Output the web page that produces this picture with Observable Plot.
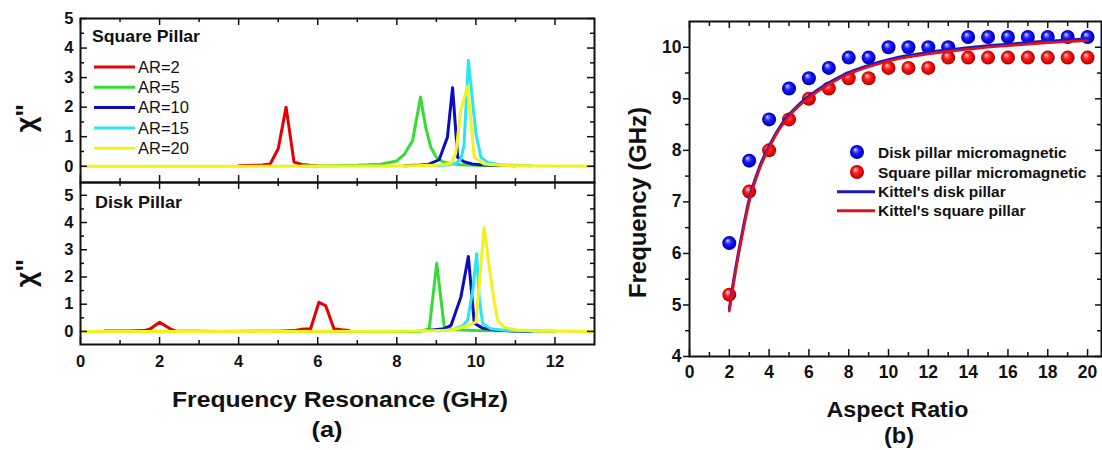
<!DOCTYPE html>
<html>
<head>
<meta charset="utf-8">
<script src="https://cdn.jsdelivr.net/npm/d3@7"></script>
<script src="https://cdn.jsdelivr.net/npm/@observablehq/plot@0.6"></script>
<style>
html, body { margin: 0; padding: 0; background: #fff; }
#chart { position: relative; width: 1102px; height: 450px; overflow: hidden; background: #fff; }
#chart svg { position: absolute; left: 0; top: 0; }
</style>
</head>
<body>
<div id="chart"></div>
<script>
// ---------------- DATA ----------------
// panel (a): tick values
const freqMajorTicks = [0, 2, 4, 6, 8, 10, 12];
const freqMinorTicks = [1, 3, 5, 7, 9, 11];
const chiMajorTicks = [0, 1, 2, 3, 4, 5];
const chiMinorTicks = [0.5, 1.5, 2.5, 3.5, 4.5];

// panel (a): series names and colours
const arNames = ["AR=2", "AR=5", "AR=10", "AR=15", "AR=20"];
const arColors = ["#e60000", "#33dd33", "#0b0bbf", "#2ae6f2", "#f2f21c"];

// panel (a) top: Square Pillar spectra [frequency GHz, chi'']
const squareAR2 = [[4.0,0.02],[4.4,0.03],[4.6,0.04],[4.8,0.08],[5.0,0.59],[5.2,2.0],[5.4,0.14],[5.6,0.06],[5.8,0.03],[6.0,0.02]];
const squareAR5 = [[5.6,0.01],[6.4,0.02],[7.0,0.03],[7.6,0.07],[8.0,0.18],[8.2,0.42],[8.4,0.87],[8.6,2.34],[8.73,1.32],[8.86,0.64],[9.0,0.3],[9.16,0.15],[9.32,0.1],[9.6,0.05],[10.0,0.03],[10.6,0.02]];
const squareAR10 = [[8.2,0.02],[8.6,0.04],[8.8,0.06],[9.07,0.22],[9.28,0.98],[9.41,2.66],[9.54,0.3],[9.7,0.15],[9.9,0.08],[10.1,0.05],[10.5,0.03],[11.0,0.02]];
const squareAR15 = [[9.0,0.02],[9.3,0.05],[9.5,0.1],[9.62,0.25],[9.7,0.7],[9.81,3.58],[9.87,2.8],[10.0,1.1],[10.13,0.3],[10.3,0.13],[10.6,0.05],[11.0,0.03],[11.4,0.02]];
const squareAR20 = [[0,0.0],[4,0.0],[8,0.01],[9.0,0.03],[9.37,0.1],[9.49,0.43],[9.62,1.9],[9.79,2.7],[9.96,0.3],[10.2,0.08],[10.6,0.03],[11.5,0.01],[13,0.0]];

// panel (a) bottom: Disk Pillar spectra
const diskAR2 = [[0.6,0.02],[1.2,0.02],[1.6,0.03],[1.75,0.08],[2.0,0.34],[2.3,0.07],[2.4,0.02],[3.5,0.0],[5.0,0.01],[5.4,0.03],[5.6,0.08],[5.82,0.1],[6.03,1.07],[6.2,0.95],[6.41,0.1],[6.6,0.06],[6.8,0.03]];
const diskAR5 = [[1.6,0.0],[8.6,0.0],[8.82,0.1],[9.01,2.5],[9.2,0.16],[9.4,0.08],[9.6,0.05],[10.0,0.03],[11.0,0.02],[12.0,0.01]];
const diskAR10 = [[8.8,0.03],[9.2,0.1],[9.37,0.22],[9.62,1.26],[9.81,2.75],[9.96,0.3],[10.17,0.12],[10.55,0.04],[11.0,0.02],[11.4,0.01]];
const diskAR15 = [[9.0,0.02],[9.4,0.06],[9.66,0.2],[9.79,0.4],[9.92,1.5],[10.02,2.85],[10.08,1.3],[10.17,0.28],[10.38,0.1],[10.72,0.04],[11.5,0.02]];
const diskAR20 = [[0,0.0],[4,0.0],[8,0.01],[9.2,0.03],[9.54,0.1],[9.79,0.22],[10.0,0.34],[10.21,3.82],[10.34,2.35],[10.46,1.14],[10.55,0.4],[10.72,0.15],[11.05,0.05],[11.6,0.02],[13,0.0]];

// panel (b): ticks
const arMajorTicks = [0, 2, 4, 6, 8, 10, 12, 14, 16, 18, 20];
const arMinorTicks = [1, 3, 5, 7, 9, 11, 13, 15, 17, 19];
const ghzMajorTicks = [4, 5, 6, 7, 8, 9, 10];
const ghzMinorTicks = [4.5, 5.5, 6.5, 7.5, 8.5, 9.5];

// panel (b): micromagnetic points
const aspectRatios = [2,3,4,5,6,7,8,9,10,11,12,13,14,15,16,17,18,19,20];
const diskMicro   = [6.2,7.8,8.6,9.2,9.4,9.6,9.8,9.8,10.0,10.0,10.0,10.0,10.2,10.2,10.2,10.2,10.2,10.2,10.2];
const squareMicro = [5.2,7.2,8.0,8.6,9.0,9.2,9.4,9.4,9.6,9.6,9.6,9.8,9.8,9.8,9.8,9.8,9.8,9.8,9.8];

// panel (b): Kittel curves
const kittelAR     = [2,2.25,2.5,2.75,3,3.5,4,4.5,5,5.5,6,7,8,9,10,11,12,13,14,15,16,17,18,19,20];
const kittelDisk   = [4.92,5.55,6.1,6.6,7.05,7.66,8.08,8.43,8.69,8.89,9.05,9.31,9.51,9.65,9.76,9.84,9.9,9.95,9.99,10.03,10.06,10.09,10.12,10.14,10.16];
const kittelSquare = [4.88,5.5,6.05,6.55,7.0,7.62,8.05,8.4,8.66,8.86,9.02,9.28,9.48,9.62,9.73,9.81,9.87,9.92,9.96,10.0,10.03,10.06,10.09,10.11,10.13];
const micromagNames = ["Disk pillar micromagnetic", "Square pillar micromagnetic"];
const kittelNames = ["Kittel's disk pillar", "Kittel's square pillar"];

// ---------------- RENDER ----------------
const W = 1102, H = 450;
const FONT = "'Liberation Sans', Arial, Helvetica, sans-serif";
const root = document.getElementById("chart");
const INK = "#111";

// gradients for 3D balls
const defsSvg = d3.select(root).append("svg").attr("width", 1).attr("height", 1);
const defs = defsSvg.append("defs");
function ballGradient(id, stops) {
  const g = defs.append("radialGradient").attr("id", id)
    .attr("cx", "50%").attr("cy", "50%").attr("r", "50%").attr("fx", "36%").attr("fy", "30%");
  stops.forEach(([o, c]) => g.append("stop").attr("offset", o).attr("stop-color", c));
}
ballGradient("ballBlue", [["0%", "#f4f4ff"], ["16%", "#8a8fff"], ["45%", "#1f1fff"], ["85%", "#0000d0"], ["100%", "#000090"]]);
ballGradient("ballRed", [["0%", "#fff4f4"], ["16%", "#ff8f8f"], ["45%", "#ff1f1f"], ["85%", "#d80000"], ["100%", "#900000"]]);

const pts = (arr) => arr.map(([x, y]) => ({x, y}));
const lbl = {fontFamily: FONT, fontWeight: "bold", fill: INK};

function spectraPanel(series, yDomain, mt, mb, withXAxis) {
  const mL = 80, mR = 508;
  const innerW = W - mL - mR, innerH = H - mt - mb;
  const tk = {stroke: INK, strokeWidth: 1.5};
  const marks = [
    ...series.map((s, i) => Plot.line(pts(s), {x: "x", y: "y", stroke: arColors[i], strokeWidth: 3})),
    Plot.frame({stroke: INK, strokeWidth: 2}),
    Plot.tickX(freqMajorTicks, {x: d => d, insetTop: innerH - 7, ...tk}),
    Plot.tickX(freqMajorTicks, {x: d => d, insetBottom: innerH - 7, ...tk}),
    Plot.tickX(freqMinorTicks, {x: d => d, insetTop: innerH - 4, ...tk}),
    Plot.tickX(freqMinorTicks, {x: d => d, insetBottom: innerH - 4, ...tk}),
    Plot.tickY(chiMajorTicks, {y: d => d, insetRight: innerW - 7, ...tk}),
    Plot.tickY(chiMajorTicks, {y: d => d, insetLeft: innerW - 7, ...tk}),
    Plot.tickY(chiMinorTicks, {y: d => d, insetRight: innerW - 4, ...tk}),
    Plot.tickY(chiMinorTicks, {y: d => d, insetLeft: innerW - 4, ...tk}),
    Plot.text(chiMajorTicks, {y: d => d, text: d => String(d), frameAnchor: "left", dx: -7, textAnchor: "end", lineAnchor: "middle", fontSize: 16.5, ...lbl})
  ];
  if (withXAxis) marks.push(Plot.text(freqMajorTicks, {x: d => d, text: d => String(d), frameAnchor: "bottom", dy: 11, lineAnchor: "top", fontSize: 16.5, ...lbl}));
  return Plot.plot({
    width: W, height: H,
    marginLeft: mL, marginRight: mR, marginTop: mt, marginBottom: mb,
    style: {background: "transparent", fontFamily: FONT, overflow: "visible"},
    x: {domain: [0, 13], label: null, axis: null},
    y: {domain: yDomain, label: null, axis: null},
    marks
  });
}

root.appendChild(spectraPanel([squareAR2, squareAR5, squareAR10, squareAR15, squareAR20], [-0.55, 5], 18, 268, false));
root.appendChild(spectraPanel([diskAR2, diskAR5, diskAR10, diskAR15, diskAR20], [-0.48, 5.47], 182, 106, true));

// panel (b)
(function () {
  const mL = 689, mR = 1, mt = 21, mb = 94;
  const innerW = W - mL - mR, innerH = H - mt - mb;
  const tk = {stroke: INK, strokeWidth: 1.5};
  const disk = aspectRatios.map((a, i) => ({x: a, y: diskMicro[i]}));
  const square = aspectRatios.map((a, i) => ({x: a, y: squareMicro[i]}));
  const kd = kittelAR.map((a, i) => ({x: a, y: kittelDisk[i]}));
  const ks = kittelAR.map((a, i) => ({x: a, y: kittelSquare[i]}));
  const p = Plot.plot({
    width: W, height: H,
    marginLeft: mL, marginRight: mR, marginTop: mt, marginBottom: mb,
    style: {background: "transparent", fontFamily: FONT, overflow: "visible"},
    x: {domain: [0, 20.7], label: null, axis: null},
    y: {domain: [4, 10.5], label: null, axis: null},
    marks: [
      Plot.dot(disk, {x: "x", y: "y", r: 7, fill: "url(#ballBlue)", stroke: "none"}),
      Plot.dot(square, {x: "x", y: "y", r: 7, fill: "url(#ballRed)", stroke: "none"}),
      Plot.line(kd, {x: "x", y: "y", stroke: "#1818c8", strokeWidth: 3, curve: "monotone-x"}),
      Plot.line(ks, {x: "x", y: "y", stroke: "#e0101c", strokeWidth: 2.6, curve: "monotone-x"}),
      Plot.frame({stroke: INK, strokeWidth: 2}),
      Plot.tickX(arMajorTicks, {x: d => d, insetTop: innerH - 7, ...tk}),
      Plot.tickX(arMajorTicks, {x: d => d, insetBottom: innerH - 7, ...tk}),
      Plot.tickX(arMinorTicks, {x: d => d, insetTop: innerH - 4, ...tk}),
      Plot.tickX(arMinorTicks, {x: d => d, insetBottom: innerH - 5, ...tk}),
      Plot.tickY(ghzMajorTicks, {y: d => d, insetLeft: innerW - 6, ...tk}),
      Plot.tickY(ghzMinorTicks, {y: d => d, insetLeft: innerW - 4, ...tk}),
      Plot.axisY(ghzMinorTicks, {tickSize: 4, tickFormat: () => "", strokeWidth: 1.5, stroke: INK, label: null}),
      Plot.axisY(ghzMajorTicks, {tickSize: 6, tickFormat: () => "", strokeWidth: 1.5, stroke: INK, label: null}),
      Plot.text(ghzMajorTicks, {y: d => d, text: d => String(d), frameAnchor: "left", dx: -8, textAnchor: "end", lineAnchor: "middle", fontSize: 17.5, ...lbl}),
      Plot.text(arMajorTicks, {x: d => d, text: d => String(d), frameAnchor: "bottom", dy: 9, lineAnchor: "top", fontSize: 17.5, ...lbl})
    ]
  });
  root.appendChild(p);
})();

// ---------------- TITLES & LEGENDS (overlay) ----------------
const ov = d3.select(root).append("svg").attr("width", W).attr("height", H)
  .style("pointer-events", "none").attr("font-family", FONT).attr("fill", INK);

function txt(x, y, s, {size = 16, weight = "bold", anchor = "start", rotate = 0, length = null} = {}) {
  const t = ov.append("text")
    .attr("transform", `translate(${x},${y}) rotate(${rotate})`)
    .attr("font-size", size).attr("font-weight", weight).attr("text-anchor", anchor)
    .text(s);
  if (length) t.attr("textLength", length).attr("lengthAdjust", "spacingAndGlyphs");
  return t;
}

// panel (a) texts
txt(35, 118, "χ\"", {size: 27, anchor: "middle", rotate: -90});
txt(35, 273, "χ\"", {size: 27, anchor: "middle", rotate: -90});
txt(92, 41.5, "Square Pillar", {size: 17, length: 108});
txt(95, 208, "Disk Pillar", {size: 17, length: 87});
arNames.forEach((name, i) => {
  const y = 67 + i * 20.3;
  ov.append("line").attr("x1", 94).attr("x2", 135).attr("y1", y).attr("y2", y)
    .attr("stroke", arColors[i]).attr("stroke-width", 3);
  txt(138, y + 5.8, name, {size: 16.5, weight: "normal"});
});
txt(340, 406.5, "Frequency Resonance (GHz)", {size: 22, anchor: "middle", length: 336});
txt(327, 437, "(a)", {size: 22, anchor: "middle", length: 31});

// panel (b) texts
txt(646, 202.5, "Frequency (GHz)", {size: 23, anchor: "middle", rotate: -90, length: 191});
txt(897.5, 416.5, "Aspect Ratio", {size: 22, anchor: "middle", length: 142});
txt(899, 443, "(b)", {size: 22, anchor: "middle", length: 30});

// panel (b) legend
[["url(#ballBlue)", 152], ["url(#ballRed)", 172]].forEach(([f, y], i) => {
  ov.append("circle").attr("cx", 857).attr("cy", y).attr("r", 7).attr("fill", f);
  txt(878, y + 5.5, micromagNames[i], {size: 15.5});
});
[["#1818c8", 191.7], ["#e0101c", 210.7]].forEach(([c, y], i) => {
  ov.append("line").attr("x1", 837).attr("x2", 875).attr("y1", y).attr("y2", y)
    .attr("stroke", c).attr("stroke-width", 3);
  txt(878, y + 5.5, kittelNames[i], {size: 15.5});
});
</script>
</body>
</html>
